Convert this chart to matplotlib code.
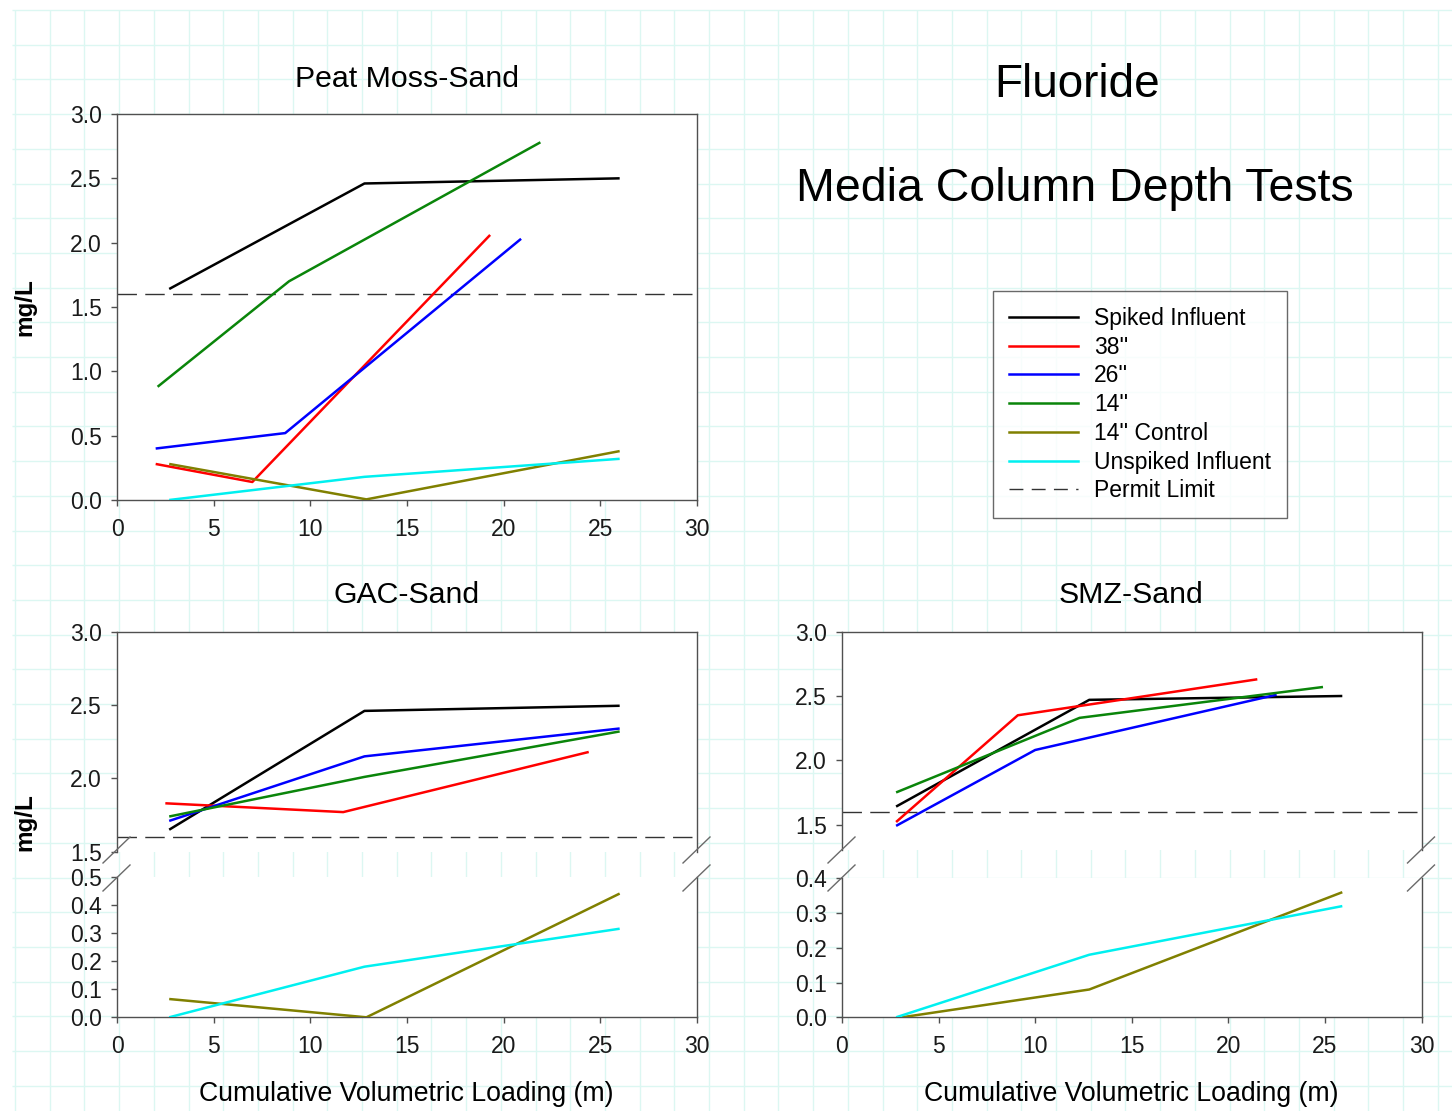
import numpy as np
import matplotlib
matplotlib.use("Agg")
import matplotlib.pyplot as plt
from matplotlib.lines import Line2D

plt.rcParams['font.family'] = ['Liberation Sans', 'DejaVu Sans']

# ---------------- data ----------------
labels = ["Spiked Influent", "38''", "26''", "14''", "14'' Control", "Unspiked Influent", "Permit Limit"]
permit_limit = 1.6
x_ticks = [0, 5, 10, 15, 20, 25, 30]

# Peat Moss-Sand
pm_spiked_x = [2.7, 12.8, 26.0];  pm_spiked_y = [1.64, 2.46, 2.50]
pm_38_x = [2.0, 7.0, 19.3];       pm_38_y = [0.28, 0.14, 2.06]
pm_26_x = [2.0, 8.7, 20.9];       pm_26_y = [0.40, 0.52, 2.03]
pm_14_x = [2.1, 8.9, 21.9];       pm_14_y = [0.88, 1.70, 2.78]
pm_ctrl_x = [2.7, 12.9, 26.0];    pm_ctrl_y = [0.28, 0.005, 0.38]
pm_unsp_x = [2.7, 12.8, 26.0];    pm_unsp_y = [0.0, 0.18, 0.32]

# GAC-Sand
gac_spiked_x = [2.7, 12.8, 26.0]; gac_spiked_y = [1.65, 2.46, 2.495]
gac_38_x = [2.5, 11.7, 24.4];     gac_38_y = [1.83, 1.77, 2.18]
gac_26_x = [2.7, 12.8, 26.0];     gac_26_y = [1.71, 2.15, 2.34]
gac_14_x = [2.7, 12.8, 26.0];     gac_14_y = [1.74, 2.01, 2.32]
gac_ctrl_x = [2.7, 12.9, 26.0];   gac_ctrl_y = [0.065, 0.0, 0.44]
gac_unsp_x = [2.7, 12.8, 26.0];   gac_unsp_y = [0.0, 0.18, 0.315]

# SMZ-Sand
smz_spiked_x = [2.8, 12.8, 25.9]; smz_spiked_y = [1.64, 2.47, 2.50]
smz_38_x = [2.8, 9.1, 21.5];      smz_38_y = [1.52, 2.35, 2.63]
smz_26_x = [2.8, 10.0, 22.5];     smz_26_y = [1.49, 2.08, 2.51]
smz_14_x = [2.8, 12.3, 24.9];     smz_14_y = [1.75, 2.33, 2.57]
smz_ctrl_x = [3.1, 12.8, 25.9];   smz_ctrl_y = [0.0, 0.08, 0.36]
smz_unsp_x = [2.8, 12.8, 25.9];   smz_unsp_y = [0.0, 0.18, 0.32]

# ---------------- style ----------------
colors = ['#000000', '#ff0000', '#0000ff', '#0a850a', '#808000', '#00f0f0']
LW = 1.8
SPINE = '#505050'
TICKC = '#1a1a1a'
TICKFS = 16.5
DASH = (0, (14, 6))

W, H = 1452, 1111
fig = plt.figure(figsize=(W / 100, H / 100), dpi=100)


def rect(l, t, r, b):
    return [l / W, 1 - b / H, (r - l) / W, (b - t) / H]


def fx(x):
    return x / W


def fy(y):
    return 1 - y / H


# background grid paper
bg = fig.add_axes([0, 0, 1, 1], zorder=-10)
bg.set_xlim(0, W)
bg.set_ylim(H, 0)
bg.axis('off')
gx = np.arange(15, W + 1, 34.7)
gy = np.arange(10, H + 1, 34.7)
bg.vlines(gx, 10, H, color='#dcf7f2', lw=1)
bg.hlines(gy, 12, W, color='#dcf7f2', lw=1)


def style_ax(ax):
    for s in ax.spines.values():
        s.set_color(SPINE)
        s.set_linewidth(1.0)
    ax.tick_params(direction='out', length=4.3, width=1.0, color=SPINE,
                   labelsize=TICKFS, labelcolor=TICKC, pad=6.5)
    ax.tick_params(axis='x', pad=8.5)
    ax.set_facecolor('white')


def plot_series(ax, xs, ys, idxs):
    for x, y, i in zip(xs, ys, idxs):
        ax.plot(x, y, color=colors[i], lw=LW, solid_capstyle='butt', zorder=3)


def permit(ax):
    ax.axhline(permit_limit, color='#333333', lw=1.0, linestyle=DASH, zorder=2)


# ---------- Peat Moss-Sand ----------
ax1 = fig.add_axes(rect(117, 114, 697, 500))
style_ax(ax1)
plot_series(ax1,
            [pm_spiked_x, pm_38_x, pm_26_x, pm_14_x, pm_ctrl_x, pm_unsp_x],
            [pm_spiked_y, pm_38_y, pm_26_y, pm_14_y, pm_ctrl_y, pm_unsp_y],
            [0, 1, 2, 3, 4, 5])
permit(ax1)
ax1.set_xlim(0, 30)
ax1.set_ylim(0, 3)
ax1.set_xticks(x_ticks)
ax1.set_yticks(np.arange(0, 3.01, 0.5))
ax1.yaxis.set_major_formatter(matplotlib.ticker.FormatStrFormatter('%.1f'))
ax1.tick_params(top=False, right=False)


def broken_panel(l, r, t_up, b_up, t_lo, b_lo, up_lim, lo_lim, up_ticks, lo_ticks,
                 up_data, lo_data):
    up = fig.add_axes(rect(l, t_up, r, b_up))
    lo = fig.add_axes(rect(l, t_lo, r, b_lo))
    for a in (up, lo):
        style_ax(a)
        a.set_xlim(0, 30)
    up.spines['bottom'].set_visible(False)
    lo.spines['top'].set_visible(False)
    up.tick_params(bottom=False, labelbottom=False)
    up.set_ylim(*up_lim)
    lo.set_ylim(*lo_lim)
    up.set_yticks(up_ticks)
    lo.set_yticks(lo_ticks)
    lo.set_xticks(x_ticks)
    for a in (up, lo):
        a.yaxis.set_major_formatter(matplotlib.ticker.FormatStrFormatter('%.1f'))
    plot_series(up, *up_data)
    plot_series(lo, *lo_data)
    permit(up)
    # break marks
    for xs in (l, r):
        for yb in (863, 891):
            fig.add_artist(Line2D([fx(xs - 14), fx(xs + 13)], [fy(yb), fy(yb - 26)],
                                  color='#6a6a6a', lw=1.0))
    return up, lo


# ---------- GAC-Sand ----------
broken_panel(117, 697, 631.7, 851.7, 876.7, 1017.3, (1.5, 3.0), (0, 0.5),
             [1.5, 2.0, 2.5, 3.0], np.arange(0, 0.51, 0.1),
             ([gac_spiked_x, gac_38_x, gac_26_x, gac_14_x],
              [gac_spiked_y, gac_38_y, gac_26_y, gac_14_y], [0, 1, 2, 3]),
             ([gac_ctrl_x, gac_unsp_x], [gac_ctrl_y, gac_unsp_y], [4, 5]))

# ---------- SMZ-Sand ----------
broken_panel(842, 1421.5, 631.7, 850.3, 878.3, 1017.3, (1.3, 3.0), (0, 0.4),
             [1.5, 2.0, 2.5, 3.0], np.arange(0, 0.41, 0.1),
             ([smz_spiked_x, smz_38_x, smz_26_x, smz_14_x],
              [smz_spiked_y, smz_38_y, smz_26_y, smz_14_y], [0, 1, 2, 3]),
             ([smz_ctrl_x, smz_unsp_x], [smz_ctrl_y, smz_unsp_y], [4, 5]))

# ---------- texts ----------
fig.text(fx(407), fy(79), "Peat Moss-Sand", ha='center', va='center', fontsize=21.8)
fig.text(fx(407), fy(595), "GAC-Sand", ha='center', va='center', fontsize=21.8)
fig.text(fx(1131), fy(595), "SMZ-Sand", ha='center', va='center', fontsize=21.8)
fig.text(fx(1077), fy(85), "Fluoride", ha='center', va='center', fontsize=33)
fig.text(fx(1075), fy(189), "Media Column Depth Tests", ha='center', va='center', fontsize=33.5)
fig.text(fx(406), fy(1094), "Cumulative Volumetric Loading (m)", ha='center', va='center', fontsize=19.2)
fig.text(fx(1131), fy(1094), "Cumulative Volumetric Loading (m)", ha='center', va='center', fontsize=19.2)
fig.text(fx(25), fy(307), "mg/L", ha='center', va='center', rotation=90, fontsize=17.5, fontweight='bold')
fig.text(fx(25), fy(822), "mg/L", ha='center', va='center', rotation=90, fontsize=17.5, fontweight='bold')

# ---------- legend ----------
handles = [Line2D([], [], color=c, lw=LW) for c in colors]
handles.append(Line2D([], [], color='#333333', lw=1.0, linestyle=(0, (10, 6))))
leg = fig.legend(handles, labels, loc='upper left', bbox_to_anchor=(fx(993), fy(291)),
                 borderaxespad=0, frameon=True, fancybox=False, fontsize=16.5,
                 handlelength=3.0, handletextpad=0.7, labelspacing=0.25, borderpad=0.7)
leg.get_frame().set_edgecolor('#444444')
leg.get_frame().set_linewidth(1.0)

fig.savefig("out.png", dpi=100, facecolor='white')
